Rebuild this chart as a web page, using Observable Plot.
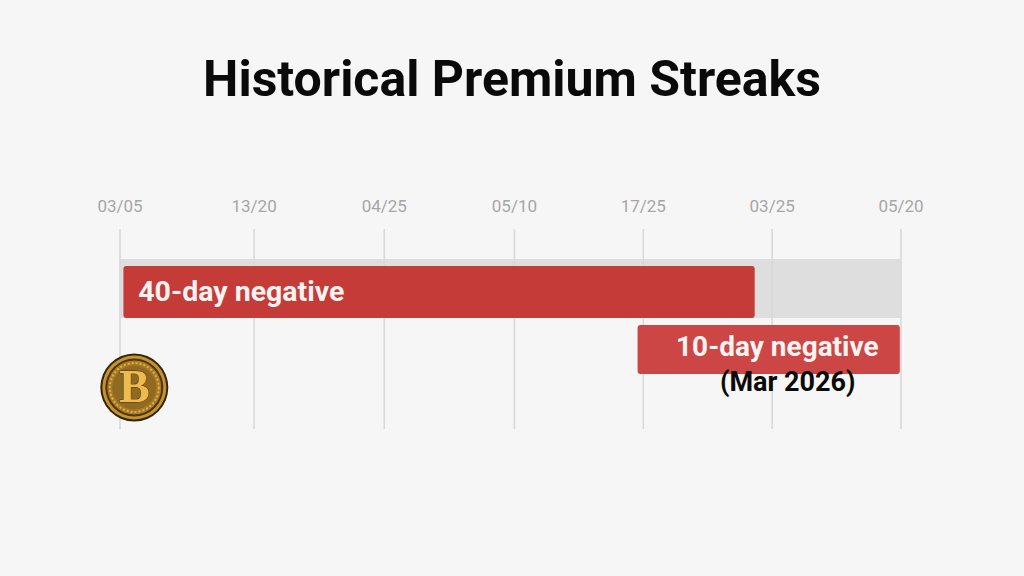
<!DOCTYPE html>
<html><head><meta charset="utf-8">
<script src="https://cdn.jsdelivr.net/npm/d3@7"></script>
<script src="https://cdn.jsdelivr.net/npm/@observablehq/plot@0.6"></script>
<style>
html,body{margin:0;padding:0;background:#f6f6f6;overflow:hidden}
#title{height:140px;box-sizing:border-box;padding-top:47px;text-align:center;font:700 50px Roboto,sans-serif;color:#0a0a0a;margin:0;line-height:65px}
svg{display:block}
</style></head><body>
<h1 id="title">Historical Premium Streaks</h1>
<div id="chart"></div>
<script>
const tickPositions = [0, 1.03, 2.03, 3.03, 4.02, 5.01, 6];
const tickLabels = ["03/05", "13/20", "04/25", "05/10", "17/25", "03/25", "05/20"];
const streakNames = ["40-day negative", "10-day negative"];
const streakStarts = [0.03, 3.98];
const streakEnds = [4.88, 5.995];
const streakTops = [3.7, 9.6];
const streakBottoms = [8.9, 14.5];
const streakFills = ["#c43b38", "#cb4644"];
const track = [{x1: 0, x2: 6, y1: 3, y2: 8.9}];
const note = "(Mar 2026)";

const coinRings = [34, 32, 29, 27, 22];
const coinColors = ["#33240a", "#c4922f", "#4d3610", "#a97a25", "#8f6a22"];

const streaks = streakNames.map((name, i) => ({
  name, x1: streakStarts[i], x2: streakEnds[i], y1: streakTops[i], y2: streakBottoms[i], fill: streakFills[i]
}));

const chart = Plot.plot({
  width: 1024, height: 436,
  marginTop: 89, marginBottom: 147, marginLeft: 119.5, marginRight: 123.5,
  style: {background: "transparent", fontFamily: "Roboto, sans-serif"},
  x: {domain: [0, 6], label: null},
  y: {domain: [0, 20], reverse: true, axis: null, label: null},
  marks: [
    Plot.rect(track, {x1: "x1", x2: "x2", y1: "y1", y2: "y2", fill: "#dedede"}),
    Plot.ruleX(tickPositions, {y1: 0, y2: 20, stroke: "#d9d9d9", strokeWidth: 1.6}),
    Plot.rect(streaks, {x1: "x1", x2: "x2", y1: "y1", y2: "y2", fill: "fill", rx: 3}),
    Plot.text([streaks[0]], {x: 0.14, y: 6.25, text: "name", textAnchor: "start", fill: "#fbf3f2", fontSize: 28.5, fontWeight: 700}),
    Plot.text([streaks[1]], {x: 5.05, y: 11.8, text: "name", fill: "#fbf3f2", fontSize: 28, fontWeight: 700}),
    Plot.text([note], {x: 5.13, y: 15.3, text: d => d, fill: "#0a0a0a", fontSize: 27, fontWeight: 700}),
    Plot.axisX({anchor: "top", ticks: tickPositions, tickFormat: (d, i) => tickLabels[i], tickSize: 0, tickPadding: 18, fontSize: 17, color: "#a6a6a6", label: null}),
    coinRings.map((r, i) => Plot.dot([0], {x: 0.11, y: 15.8, r, fill: coinColors[i], stroke: "none"})),
    Plot.dot([0], {x: 0.11, y: 15.8, r: 24.5, fill: "none", stroke: "#e0ae48", strokeWidth: 2, strokeDasharray: "2 2"}),
    Plot.text(["B"], {x: 0.11, y: 15.8, text: d => d, fontFamily: "Liberation Serif, serif", fontWeight: 700, fontSize: 46, fill: "#efbb4e", stroke: "#4d3610", strokeWidth: 1})
  ]
});
document.getElementById("chart").append(chart);
</script>
</body></html>
